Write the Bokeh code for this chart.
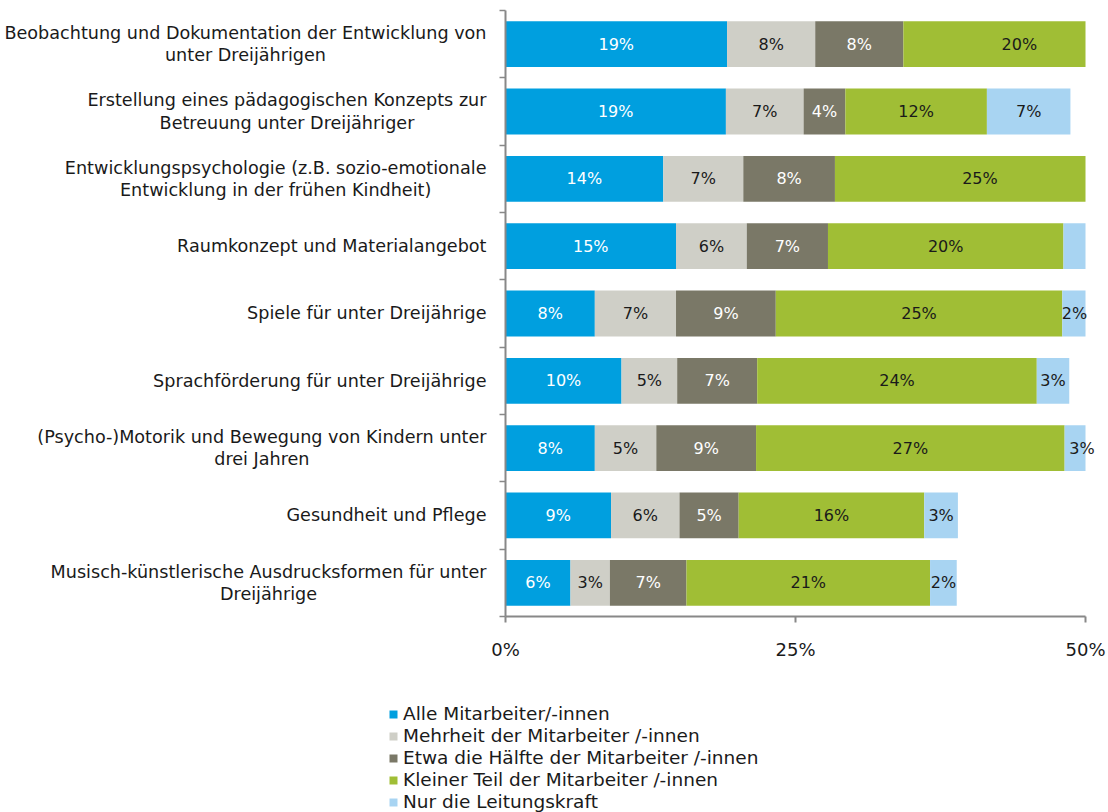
from bokeh.plotting import figure
from bokeh.models import (ColumnDataSource, Range1d, FixedTicker, Legend, LegendItem, Label)
from bokeh.core.properties import value
from bokeh.embed import file_html
from bokeh.resources import INLINE

categories = [
    "Beobachtung und Dokumentation der Entwicklung von\nunter Dreijährigen",
    "Erstellung eines pädagogischen Konzepts zur\nBetreuung unter Dreijähriger",
    "Entwicklungspsychologie (z.B. sozio-emotionale\nEntwicklung in der frühen Kindheit)",
    "Raumkonzept und Materialangebot",
    "Spiele für unter Dreijährige",
    "Sprachförderung für unter Dreijährige",
    "(Psycho-)Motorik und Bewegung von Kindern unter\ndrei Jahren",
    "Gesundheit und Pflege",
    "Musisch-künstlerische Ausdrucksformen für unter\nDreijährige",
]
series_names = [
    "Alle Mitarbeiter/-innen",
    "Mehrheit der Mitarbeiter /-innen",
    "Etwa die Hälfte der Mitarbeiter /-innen",
    "Kleiner Teil der Mitarbeiter /-innen",
    "Nur die Leitungskraft",
]
alle = [19.1, 19.0, 13.6, 14.7, 7.7, 10.0, 7.7, 9.1, 5.6]
mehrheit = [7.6, 6.7, 6.9, 6.1, 7.0, 4.8, 5.3, 5.9, 3.4]
haelfte = [7.6, 3.6, 7.9, 7.0, 8.6, 6.9, 8.6, 5.1, 6.6]
klein = [20.0, 12.2, 25.0, 20.3, 24.7, 24.1, 26.6, 16.0, 21.0]
leitung = [0.0, 7.2, 0.0, 4.0, 2.1, 2.8, 3.0, 2.9, 2.3]
x_ticks = [0, 25, 50]
x_tick_labels = ["0%", "25%", "50%"]

colors = ["#009FDF", "#CFCFC7", "#7A7867", "#A0BE35", "#A8D4F2"]
label_colors = ["#FFFFFF", "#1A1A1A", "#FFFFFF", "#1A1A1A", "#1A1A1A"]
series = [alle, mehrheit, haelfte, klein, leitung]
XMAX = 50
FONT = "DejaVu Sans"
TEXT = "#1A1A1A"
AXIS = "#888888"

# canvas / layout geometry (pixels)
W, H = 1106, 812
X0_PX = 505          # pixel of 0 %
PX_PER_PCT = 11.6    # pixels per percent
TOP_PX = 10          # top of first band
BAND_PX = 67.33      # band height

n = len(categories)
ypos = [n - 1 - i for i in range(n)]

x_start = -X0_PX / PX_PER_PCT
x_end = (W - X0_PX) / PX_PER_PCT
y_end = (n - 0.5) + TOP_PX / BAND_PX
y_start = y_end - H / BAND_PX

p = figure(width=W, height=H, min_border=0,
           x_range=Range1d(x_start, x_end), y_range=Range1d(y_start, y_end),
           output_backend="svg", toolbar_location=None, outline_line_color=None,
           background_fill_color="white", border_fill_color="white")

# stacked bars, clipped at the axis maximum
renderers = []
lx, ly, lt, lc = [], [], [], []
starts = [0.0] * n
for j, s in enumerate(series):
    left, right = [], []
    for i in range(n):
        a = starts[i]
        b = a + s[i]
        left.append(min(a, XMAX))
        right.append(min(b, XMAX))
        center = a + s[i] / 2
        if s[i] > 0 and center < XMAX:
            lx.append(center)
            ly.append(ypos[i])
            lt.append(f"{round(s[i])}%")
            lc.append(label_colors[j])
        starts[i] = b
    r = p.hbar(y=ypos, left=left, right=right, height=0.68, color=colors[j], line_color=None)
    renderers.append(r)

p.text(x="x", y="y", text="t", text_color="c",
       source=ColumnDataSource(dict(x=lx, y=ly, t=lt, c=lc)),
       text_align="center", text_baseline="middle",
       text_font=value(FONT), text_font_size="16px")

# category labels
for i, c in enumerate(categories):
    p.add_layout(Label(x=0, y=ypos[i], x_offset=-19, text=c, anchor="center_right",
                       text_align="center", text_baseline="middle",
                       text_font=FONT, text_font_size="17.6px",
                       text_color=TEXT, text_line_height=1.12))

p.grid.visible = False
xa = p.xaxis[0]
xa.fixed_location = -0.5
xa.bounds = (0, XMAX)
xa.ticker = FixedTicker(ticks=x_ticks)
xa.major_label_overrides = {t: l for t, l in zip(x_ticks, x_tick_labels)}
xa.axis_line_color = AXIS
xa.axis_line_width = 2
xa.major_tick_line_color = AXIS
xa.major_tick_line_width = 2
xa.major_tick_out = 6
xa.major_tick_in = 0
xa.minor_tick_line_color = None
xa.major_label_standoff = 17
xa.major_label_text_font = FONT
xa.major_label_text_font_size = "18px"
xa.major_label_text_color = TEXT

ya = p.yaxis[0]
ya.fixed_location = 0
ya.bounds = (-0.5, n - 0.5)
ya.ticker = FixedTicker(ticks=[k - 0.5 for k in range(n + 1)])
ya.axis_line_color = AXIS
ya.axis_line_width = 2
ya.major_tick_line_color = AXIS
ya.major_tick_line_width = 1.5
ya.major_tick_out = 6
ya.major_tick_in = 0
ya.minor_tick_line_color = None
ya.major_label_text_font_size = "0px"
ya.major_label_text_alpha = 0

legend = Legend(items=[LegendItem(label=nm, renderers=[r]) for nm, r in zip(series_names, renderers)],
                location=(388, 0), orientation="vertical",
                glyph_width=10, glyph_height=10, label_standoff=5, spacing=1,
                padding=0, margin=0, border_line_color=None, background_fill_alpha=0,
                label_text_font=FONT, label_text_font_size="18.5px", label_text_color=TEXT,
                label_height=20)
p.add_layout(legend)

open("out.html", "w").write(file_html(p, INLINE))
